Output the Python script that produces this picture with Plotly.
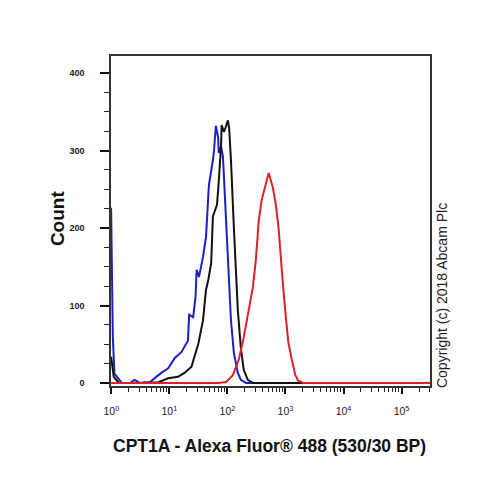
import plotly.graph_objects as go

# fluorescence intensity (x) and event counts (y) for each histogram
blue_x = [0.99, 1.06, 1.13, 1.24, 1.51, 2.09, 2.51, 3.09, 3.72, 4.57, 5.5, 7.24,
          9.55, 12.3, 16.2, 20.9, 21.9, 25.7, 28.2, 29.5, 32.4, 38.0, 42.7, 46.8,
          47.9, 56.2, 58.9, 63.1, 69.2, 70.8, 77.6, 83.7, 94.2, 106, 115, 129,
          151, 170, 209, 400000]
blue_y = [226, 60, 12, 8, 0, 0, 4, 0, 1, 1, 6, 13,
          19, 32, 40, 55, 88, 85, 111, 146, 137, 163, 188, 249,
          255, 288, 301, 332, 317, 297, 305, 292, 215, 137, 81, 39,
          13, 4, 0, 0]

black_x = [0.99, 1.1, 1.35, 3.7, 6.5, 9.5, 14.1, 18.2, 24.0, 31.6, 38.0, 42.7,
           46.8, 52.5, 56.2, 61.7, 66.0, 69.2, 77.6, 79.4, 87.0, 93.3, 102, 107,
           115, 129, 140, 151, 170, 191, 224, 275, 400000]
black_y = [34, 8, 0, 0, 1, 6, 8, 13, 21, 51, 81, 120,
           133, 155, 215, 225, 230, 249, 305, 333, 324, 330, 339, 329,
           288, 201, 137, 94, 46, 17, 4, 0, 0]

red_x = [0.99, 69.2, 87, 94, 124, 157, 191, 234, 275, 309, 347, 389,
         437, 513, 603, 676, 759, 813, 891, 1000, 1122, 1318, 1479, 1660,
         2042, 400000]
red_y = [0, 0, 1, 1, 10, 30, 59, 98, 124, 159, 210, 236,
         252, 271, 253, 232, 201, 168, 133, 90, 52, 26, 10, 3,
         0, 0]

x_tickvals = [1, 10, 100, 1000, 10000, 100000]
x_ticktext = ["10<sup>0</sup>", "10<sup>1</sup>", "10<sup>2</sup>",
              "10<sup>3</sup>", "10<sup>4</sup>", "10<sup>5</sup>"]
y_tickvals = [0, 100, 200, 300, 400]

fig = go.Figure()
fig.add_trace(go.Scatter(x=blue_x, y=blue_y, mode="lines",
                         line=dict(color="#1e1ec8", width=2)))
fig.add_trace(go.Scatter(x=black_x, y=black_y, mode="lines",
                         line=dict(color="#111111", width=2)))
fig.add_trace(go.Scatter(x=red_x, y=red_y, mode="lines",
                         line=dict(color="#de2128", width=2)))

# page body adds an 8px offset, so the figure is a bit smaller than the window
fig.update_layout(
   width=496, height=471,
   margin=dict(l=103, r=74, t=48, b=93),
   paper_bgcolor="white", plot_bgcolor="white",
   showlegend=False,
   font=dict(family="Arial", color="#111"),
   xaxis=dict(
      type="log", range=[-0.006, 5.49],
      showgrid=False, zeroline=False,
      showline=True, linecolor="#333", linewidth=1.5, mirror=True,
      tickmode="array", tickvals=x_tickvals, ticktext=x_ticktext,
      ticks="outside", ticklen=6, tickwidth=2, tickcolor="#111",
      ticklabelstandoff=9,
      tickfont=dict(size=10.5, color="#222"),
      minor=dict(ticks="outside", ticklen=4, tickwidth=1, tickcolor="#222",
                 dtick="D1", showgrid=False),
   ),
   yaxis=dict(
      range=[-3.9, 422],
      showgrid=False, zeroline=False,
      showline=True, linecolor="#333", linewidth=1.5, mirror=True,
      tickmode="array", tickvals=y_tickvals,
      ticks="outside", ticklen=9, tickwidth=1.5, tickcolor="#111",
      ticklabelstandoff=14,
      tickfont=dict(size=9, color="#222", weight="bold"),
      minor=dict(ticks="outside", ticklen=5, tickwidth=1, tickcolor="#222",
                 dtick=25, showgrid=False),
   ),
)

fig.add_annotation(text="<b>Count</b>", xref="paper", yref="paper",
                   x=-0.169, y=0.509, xanchor="center", yanchor="middle",
                   textangle=-90, showarrow=False,
                   font=dict(size=19, color="#111"))
fig.add_annotation(text="<b>CPT1A - Alexa Fluor® 488 (530/30 BP)</b>",
                   xref="paper", yref="paper", x=0.498, y=-0.182,
                   xanchor="center", yanchor="middle",
                   showarrow=False, font=dict(size=17.5, color="#111"))
fig.add_annotation(text="Copyright (c) 2018 Abcam Plc", xref="paper", yref="paper",
                   x=1.038, y=0.273, xanchor="center", yanchor="middle",
                   textangle=-90, showarrow=False,
                   font=dict(size=14, color="#222"))

fig.write_html("out.html")
